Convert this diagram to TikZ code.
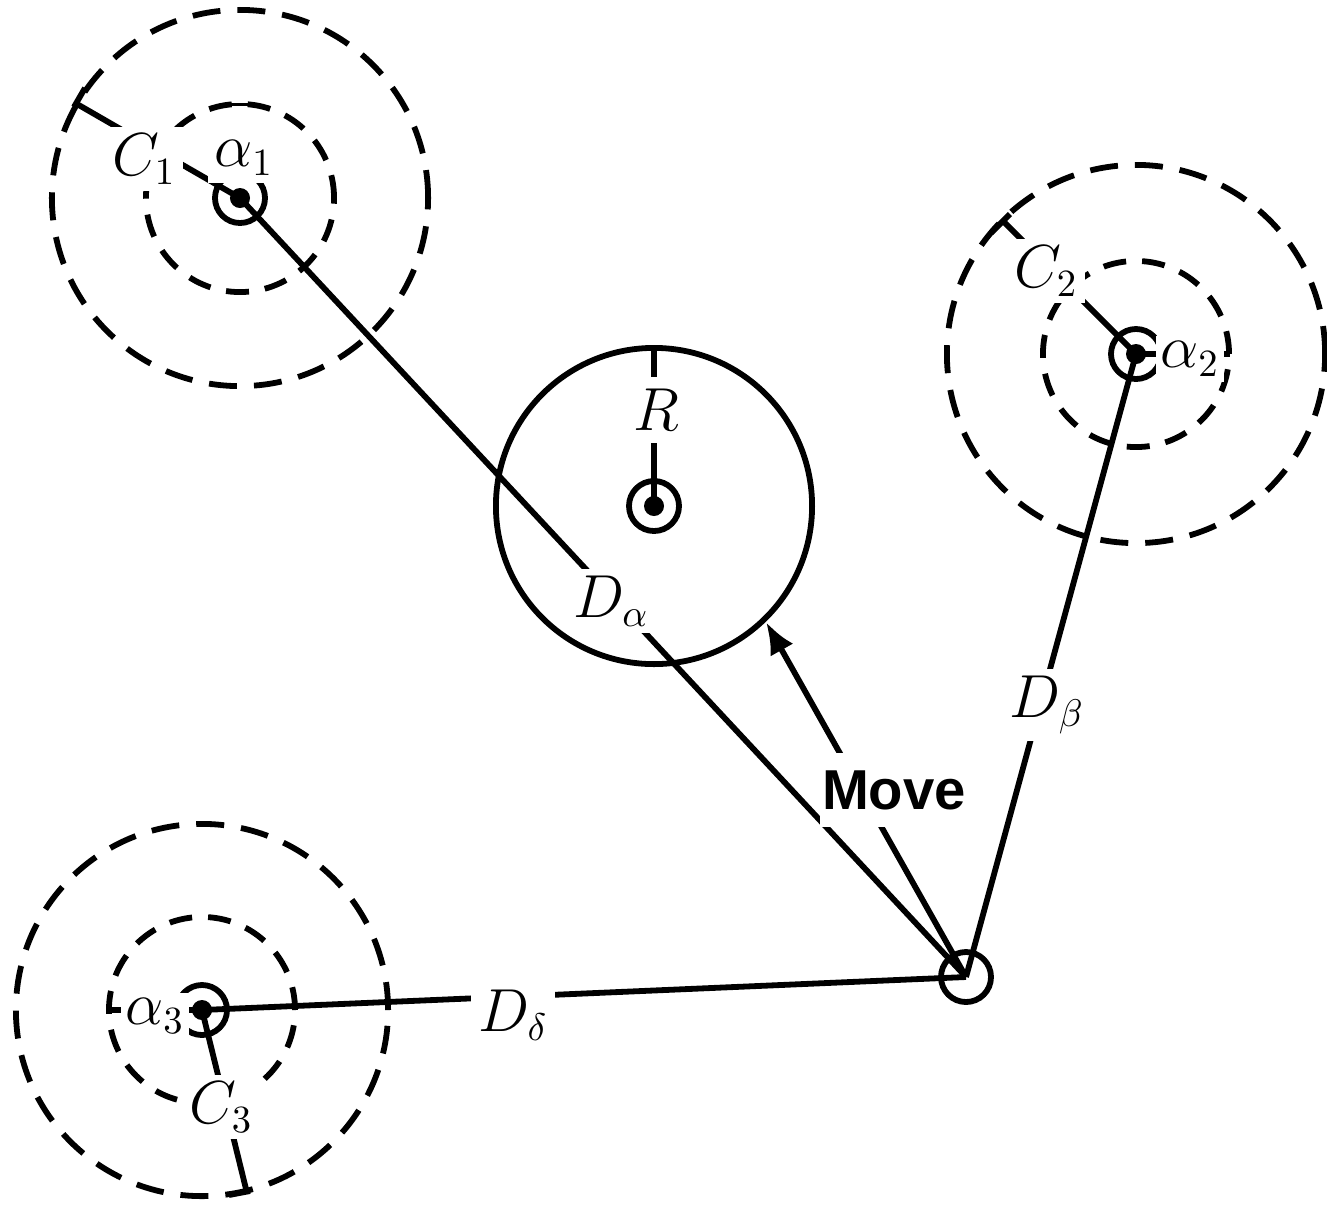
\documentclass[tikz,border=0pt]{standalone}
\usepackage{fontspec}
\newfontfamily\movefont{Liberation Sans}
\usetikzlibrary{arrows.meta}
\begin{document}
\begin{tikzpicture}[x=0.01cm,y=-0.01cm,line width=0.058cm,
  outerc/.style={dash pattern=on 0.28cm off 0.17cm},
  innerc/.style={dash pattern=on 0.23cm off 0.16cm},
  smallc/.style={draw,circle,minimum size=0.5cm,inner sep=0pt},
  lab/.style={fill=white,inner sep=0.07cm,font=\fontsize{16}{19}\selectfont}]
\useasboundingbox (0,0) rectangle (1327,1205);
% centres
\coordinate (A1) at (240,198);
\coordinate (A2) at (1136,354);
\coordinate (A3) at (202,1010);
\coordinate (Z) at (654,506);
% dashed ranges
\draw[outerc] (A1) circle[radius=1.88cm];
\draw[innerc] (A1) circle[radius=0.94cm];
\draw[outerc] (A2) circle[radius=1.89cm];
\draw[innerc] (A2) circle[radius=0.93cm];
\draw[outerc] (A3) circle[radius=1.86cm];
\draw[innerc] (A3) circle[radius=0.93cm];
% central range
\draw (Z) circle[radius=1.58cm];
% small nodes
\node[smallc] (a1) at (A1) {};
\node[smallc] (a2) at (A2) {};
\node[smallc] (a3) at (A3) {};
\node[smallc] (z) at (Z) {};
\node[smallc] (b) at (966,977) {};
\fill (a1.center) circle[radius=0.1cm];
\fill (a2.center) circle[radius=0.1cm];
\fill (a3.center) circle[radius=0.1cm];
\fill (z.center) circle[radius=0.1cm];
% radius markers
\coordinate (c1e) at (77,104);
\coordinate (c2e) at (1003,221);
\coordinate (c3e) at (247,1193);
\draw (a1.center) -- (c1e);
\draw (74,107) -- (85,88);
\draw (a2.center) -- (c2e);
\draw (991,233) -- (1010,214);
\draw (a3.center) -- (c3e);
\draw (229,1195) -- (250,1191);
\draw[line width=0.03cm] (228,104) -- (252,104);
\coordinate (a2e) at (1230,354);
\coordinate (a3e) at (109,1010);
\coordinate (re) at (654,348);
\draw (a2.center) -- (a2e);
\draw (a3.center) -- (a3e);
\draw (z.center) -- (re);
% distances
\draw (b.center) -- (a1.center);
\draw (b.center) -- (a2.center);
\draw (b.center) -- (a3.center);
\draw[-{Latex[length=0.32cm,width=0.26cm]}] (b.center) -- (766,622);
% labels
\node[lab] (lc1) at (144,159) {$C_1$};
\node[lab] (la1) at (244,158) {$\alpha_1$};
\node[lab] (lc2) at (1046,271) {$C_2$};
\node[lab,inner sep=0.05cm] (la2) at (1190,359) {$\alpha_2$};
\node[lab,inner sep=0.05cm] (la3) at (155,1016) {$\alpha_3$};
\node[lab] (lc3) at (221,1107) {$C_3$};
\node[lab,inner xsep=0.06cm,inner ysep=0.12cm] (lr) at (656,410) {$R$};
\node[lab] (lda) at (611,601) {$D_\alpha$};
\node[lab] (ldb) at (1047,705) {$D_\beta$};
\node[lab] (ldd) at (513,1015) {$D_\delta$};
\node[fill=white,inner xsep=0.02cm,inner ysep=0.17cm,font=\movefont\bfseries\fontsize{16}{19}\selectfont] (mv) at (894,790) {Move};
\end{tikzpicture}
\end{document}
